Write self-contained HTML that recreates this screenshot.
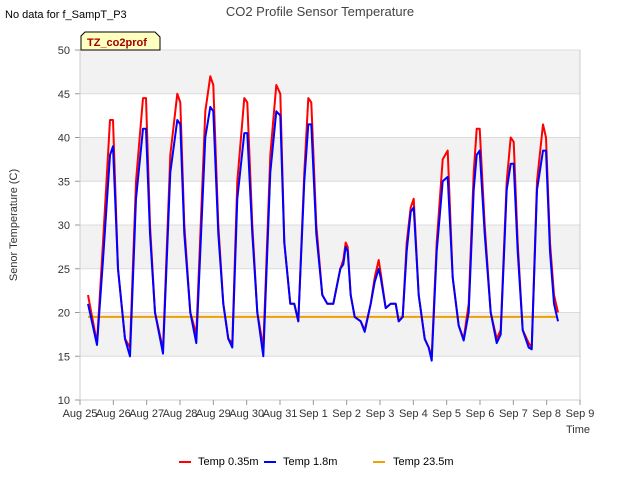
<!DOCTYPE html>
<html><head><meta charset="utf-8"><style>
body{margin:0;background:#fff;font-family:"Liberation Sans",sans-serif}
</style></head><body>
<svg width="640" height="480" xmlns="http://www.w3.org/2000/svg" font-family="Liberation Sans, sans-serif">
<text x="5" y="18" font-size="11">No data for f_SampT_P3</text>
<text x="320" y="16" font-size="13" fill="#444" text-anchor="middle">CO2 Profile Sensor Temperature</text>
<g id="bands"></g>
<g id="grid"></g>
<g id="axes"></g>
<g id="series"></g>
<text transform="translate(17,225) rotate(-90)" font-size="11" fill="#333" text-anchor="middle">Senor Temperature (C)</text>
<text x="566" y="433" font-size="11" fill="#333">Time</text>
<g>
<path d="M81,50 L81,36 L85,32 L155,32 L160,37 L160,50 Z" fill="#ffffc0" stroke="#000" stroke-width="1"/>
<text x="87" y="46" font-size="11" font-weight="bold" fill="#a00000">TZ_co2prof</text>
</g>
<g>
<g><line x1="179" y1="462" x2="191" y2="462" stroke="#f00" stroke-width="2"/><text x="198" y="465" font-size="11">Temp 0.35m</text></g>
<g><line x1="264" y1="462" x2="276" y2="462" stroke="#00f" stroke-width="2"/><text x="283" y="465" font-size="11">Temp 1.8m</text></g>
<g><line x1="373" y1="462" x2="385" y2="462" stroke="#f0a000" stroke-width="2"/><text x="393" y="465" font-size="11">Temp 23.5m</text></g>
</g>
</svg>
<script>
const xTickLabels=["Aug 25","Aug 26","Aug 27","Aug 28","Aug 29","Aug 30","Aug 31","Sep 1","Sep 2","Sep 3","Sep 4","Sep 5","Sep 6","Sep 7","Sep 8","Sep 9"];
const yTicks=[10,15,20,25,30,35,40,45,50];
const times=[0.24,0.51,0.69,0.90,0.99,1.14,1.35,1.50,1.68,1.89,1.98,2.10,2.25,2.49,2.71,2.92,3.01,3.13,3.31,3.49,3.76,3.91,4.00,4.15,4.30,4.45,4.57,4.72,4.93,5.02,5.17,5.32,5.50,5.71,5.89,6.01,6.13,6.31,6.43,6.55,6.73,6.85,6.94,7.09,7.27,7.42,7.60,7.81,7.90,7.97,8.03,8.12,8.24,8.42,8.54,8.72,8.84,8.96,9.02,9.17,9.32,9.47,9.56,9.68,9.80,9.92,10.01,10.16,10.34,10.46,10.55,10.70,10.88,11.03,11.18,11.36,11.51,11.66,11.81,11.90,11.99,12.14,12.32,12.50,12.62,12.80,12.92,13.01,13.13,13.28,13.46,13.55,13.71,13.89,13.98,14.10,14.22,14.34];
const temp035=[22,16.5,28,42,42,25,17,16,35,44.5,44.5,30,20,15.8,38,45,44,30,20,17.5,43,47,46,30,21,17,16.5,35,44.5,44,30,20,16,38,46,45,28,21,21,19,36,44.5,44,30,22,21,21,25,26,28,27.5,22,19.5,19,18,21,24,26,24.5,20.5,21,21,19,19.5,28,32,33,22,17,16,15,28,37.5,38.5,24,18.5,17,21,36,41,41,30,20,17,18,35,40,39.5,28,18,16.5,16,35,41.5,40,28,22,20];
const temp18=[21,16.3,26,38,39,25,17,15,33,41,41,29,20,15.3,36,42,41.5,29,20,16.5,40,43.5,43,29,21,17,16,33,40.5,40.5,29,20,15,36,43,42.5,28,21,21,19,35,41.5,41.5,29,22,21,21,25,25.5,27.5,27,22,19.5,19,17.8,21,23.5,25,24,20.5,21,21,19,19.5,27,31.5,32,22,17,16,14.5,27,35,35.5,24,18.5,16.8,20,34,38,38.5,29,20,16.5,17.5,34,37,37,27,18,16,15.8,34,38.5,38.5,27,21,19];
const temp235=[19.5,19.5];
const temp235Times=[0.24,14.34];
const NS="http://www.w3.org/2000/svg";
const L=80,R=580,T=50,B=400;
const xs=d=>L+(R-L)*d/15;
const ys=v=>B-(B-T)*(v-10)/40;
function mk(tag,attrs,parent){const e=document.createElementNS(NS,tag);for(const k in attrs)e.setAttribute(k,attrs[k]);parent.appendChild(e);return e;}
const bands=document.getElementById('bands'),grid=document.getElementById('grid'),axes=document.getElementById('axes'),series=document.getElementById('series');
mk('rect',{x:L,y:T,width:R-L,height:B-T,fill:'#fff'},bands);
for(let i=0;i<yTicks.length-1;i++){if(i%2===1){const r=mk('rect',{x:L,y:ys(yTicks[i+1]),width:R-L,height:ys(yTicks[i])-ys(yTicks[i+1]),fill:'#f2f2f2'},bands);}}
yTicks.forEach(v=>{const g=mk('line',{x1:L,x2:R,y1:ys(v),y2:ys(v),stroke:'#dcdcdc','stroke-width':1},grid);
const t=mk('text',{x:L-10,y:ys(v)+4,'font-size':11,fill:'#333','text-anchor':'end'},axes);t.textContent=v;
mk('line',{x1:L-5,x2:L,y1:ys(v),y2:ys(v),stroke:'#999'},axes);});
mk('line',{x1:L,x2:L,y1:T,y2:B,stroke:'#ccc'},axes);
mk('line',{x1:R,x2:R,y1:T,y2:B,stroke:'#ccc'},axes);
mk('line',{x1:L,x2:R,y1:B,y2:B,stroke:'#ccc'},axes);
xTickLabels.forEach((s,i)=>{mk('line',{x1:xs(i),x2:xs(i),y1:B,y2:B+5,stroke:'#999'},axes);
const t=mk('text',{x:xs(i),y:B+17,'font-size':11,fill:'#333','text-anchor':'middle'},axes);t.textContent=s;});
function line(tv,vv,color,name){const d=tv.map((t,i)=>(i?'L':'M')+xs(t).toFixed(1)+','+ys(vv[i]).toFixed(1)).join('');
const p=mk('path',{d:d,fill:'none',stroke:color,'stroke-width':2,'stroke-linejoin':'round'},series);}
line(temp235Times,temp235,'#f0a000','series-temp-23-5m');
line(times,temp035,'#f00','series-temp-0-35m');
line(times,temp18,'#00f','series-temp-1-8m');
</script>
</body></html>
